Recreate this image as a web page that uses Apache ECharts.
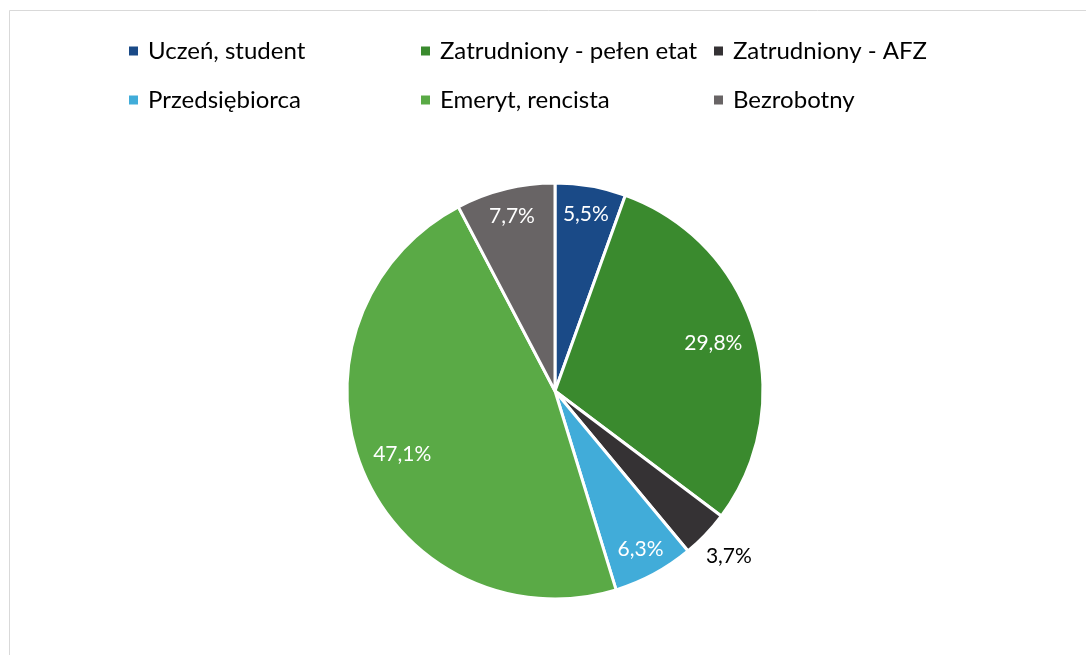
<!DOCTYPE html>
<html>
<head>
<meta charset="utf-8">
<script src="https://cdn.jsdelivr.net/npm/echarts@6/dist/echarts.min.js"></script>
<style>
html, body { margin: 0; padding: 0; background: #fff; }
#chartDiv { width: 1086px; height: 655px; }
</style>
</head>
<body>
<div id="chartDiv"></div>
<script>
// 数据
var categories = ['Uczeń, student', 'Zatrudniony - pełen etat', 'Zatrudniony - AFZ', 'Przedsiębiorca', 'Emeryt, rencista', 'Bezrobotny'];
var values = [5.5, 29.8, 3.7, 6.3, 47.1, 7.7];
var colors = ['#1a4a87', '#3a8a2e', '#353234', '#41acd9', '#5aaa46', '#686465'];

var myChart = echarts.init(document.getElementById('chartDiv'));

var font = 'Lato, "Open Sans", sans-serif';
var center = [555, 391];
var R = 208;

function fmt(params) {
    return params.value.toFixed(1).replace('.', ',') + '%';
}

var pieData = categories.map(function (name, i) {
    return { name: name, value: values[i], itemStyle: { color: colors[i] } };
});

// 图例：两行三列
var legendPos = [[127, 39], [419, 39], [712, 39], [127, 88], [419, 88], [712, 88]];
var legends = categories.map(function (name, k) {
    return {
        data: [name],
        left: legendPos[k][0],
        top: legendPos[k][1],
        padding: 0,
        itemWidth: 11,
        itemHeight: 11,
        icon: 'rect',
        selectedMode: false,
        textStyle: {
            fontFamily: font,
            fontSize: 24,
            color: '#000',
            padding: [0, 0, 0, 4]
        }
    };
});

// 标签环：透明饼图，只用来放标签
function labelSeries(r0, r1, shown, color, suffix) {
    return {
        type: 'pie',
        center: center,
        radius: [r0, r1],
        startAngle: 90,
        clockwise: true,
        silent: true,
        itemStyle: { color: 'transparent' },
        label: {
            position: 'inside',
            formatter: fmt,
            color: color,
            fontFamily: font,
            fontSize: 21
        },
        labelLine: { show: false },
        data: categories.map(function (name, i) {
            return {
                name: name + suffix,
                value: values[i],
                label: { show: shown.indexOf(name) >= 0 }
            };
        })
    };
}

var option = {
    backgroundColor: '#fff',
    animation: false,
    legend: legends,
    graphic: [{
        type: 'rect',
        shape: { x: 9.5, y: 10.5, width: 1100, height: 700 },
        style: { fill: 'none', stroke: '#d9d9d9', lineWidth: 1 },
        silent: true
    }],
    series: [
        {
            type: 'pie',
            center: center,
            radius: [0, R],
            startAngle: 90,
            clockwise: true,
            label: { show: false },
            labelLine: { show: false },
            itemStyle: { borderColor: '#fff', borderWidth: 3 },
            emphasis: { disabled: true },
            data: pieData
        },
        labelSeries(R * 0.56, R, ['Zatrudniony - pełen etat', 'Emeryt, rencista'], '#fff', ' '),
        labelSeries(R * 0.7, R, ['Uczeń, student', 'Przedsiębiorca', 'Bezrobotny'], '#fff', '  '),
        labelSeries(R, R * 1.28, ['Zatrudniony - AFZ'], '#000', '   ')
    ]
};
myChart.setOption(option);
</script>
</body>
</html>
